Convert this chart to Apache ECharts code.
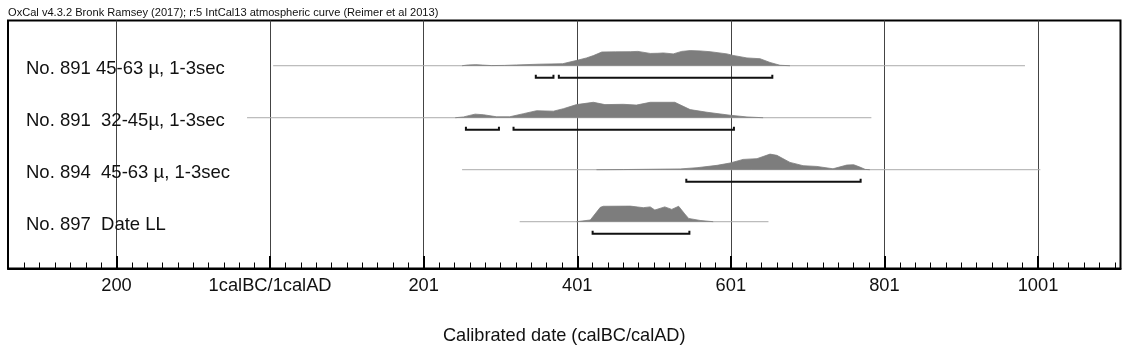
<!DOCTYPE html>
<html>
<head>
<meta charset="utf-8">
<script src="https://cdn.jsdelivr.net/npm/echarts@6/dist/echarts.min.js"></script>
<style>
  html, body { margin: 0; padding: 0; background: #fff; }
  #chart { width: 1128px; height: 352px; }
</style>
</head>
<body>
<div id="chart"></div>
<script>
// axis years: 0 = 1calBC/1calAD boundary, negative = BC
const tickValues = [-200, 0, 200, 400, 600, 800, 1000];
const tickLabels = ['200', '1calBC/1calAD', '201', '401', '601', '801', '1001'];

const rowNames = [
  'No. 891 45-63 \u00b5, 1-3sec',
  'No. 891  32-45\u00b5, 1-3sec',
  'No. 894  45-63 \u00b5, 1-3sec',
  'No. 897  Date LL'
];
// vertical position of each row's baseline (row units)
const rowBase = [3.9, 2.9, 1.9, 0.9];

// extent of the thin grey line under each distribution
const rowSpan = [[4, 983], [-30, 783], [250, 1003], [325, 649]];

// relative probability (1 = max) against axis year
const dens891a = [[250, 0], [258, 0.05], [268, 0.07], [277, 0.04], [288, 0.01], [305, 0.02], [321, 0.05],
  [351, 0.1], [381, 0.13], [400, 0.35], [412, 0.5], [421, 0.65], [432, 0.88], [450, 0.89], [469, 0.9],
  [479, 0.92], [495, 0.79], [505, 0.8], [512, 0.82], [525, 0.76], [536, 0.92], [547, 0.97], [560, 0.95],
  [573, 0.9], [595, 0.76], [603, 0.66], [621, 0.5], [638, 0.45], [651, 0.21], [664, 0.03], [677, 0]];
const dens891b = [[241, 0], [252, 0.05], [260, 0.15], [267, 0.23], [278, 0.19], [295, 0.06], [312, 0.06],
  [330, 0.26], [347, 0.45], [369, 0.42], [382, 0.58], [399, 0.84], [421, 0.99], [436, 0.84], [460, 0.86],
  [477, 0.81], [495, 0.99], [527, 0.99], [547, 0.52], [569, 0.35], [599, 0.16], [621, 0.05], [642, 0]];
const dens894 = [[425, 0], [460, 0.01], [534, 0.05], [556, 0.13], [582, 0.28], [599, 0.43], [616, 0.66],
  [634, 0.71], [651, 1.0], [660, 0.92], [677, 0.47], [694, 0.26], [712, 0.21], [733, 0.06], [751, 0.3],
  [760, 0.32], [768, 0.17], [775, 0.02], [781, 0]];
const dens897 = [[399, 0], [417, 0.11], [430, 0.92], [434, 0.99], [469, 1.0], [486, 0.9], [495, 0.95],
  [501, 0.75], [514, 0.95], [523, 0.79], [532, 0.99], [540, 0.5], [545, 0.21], [560, 0.08], [577, 0]];
const densities = [dens891a, dens891b, dens894, dens897];

// 95.4% ranges
const ranges891a = [[346, 369], [376, 654]];
const ranges891b = [[255, 298], [317, 604]];
const ranges894 = [[542, 769]];
const ranges897 = [[420, 546]];
const ranges = [ranges891a, ranges891b, ranges894, ranges897];

const peakHeight = 0.3;   // row units for probability 1
const rangeDrop = 0.23;   // bracket below baseline
const labelDrop = 0.055;  // row name sits a little below its baseline
const font = 'Liberation Sans, Arial, sans-serif';

const minorTicks = [];
for (let v = -320; v <= 1100; v += 20) minorTicks.push(v);

const labelPos = rowBase.map(b => b - labelDrop);

const chart = echarts.init(document.getElementById('chart'));

const series = [];
rowBase.forEach((base, i) => {
  series.push({
    type: 'line',
    data: rowSpan[i].map(t => [t, base]),
    symbol: 'none',
    silent: true,
    lineStyle: { color: '#ababab', width: 1 },
    z: 2
  });
  series.push({
    type: 'line',
    data: densities[i].map(d => [d[0], base + d[1] * peakHeight]),
    symbol: 'none',
    silent: true,
    lineStyle: { color: '#7d7d7d', width: 0.8 },
    areaStyle: { color: '#7d7d7d', opacity: 1, origin: base },
    z: 3
  });
});

series.push({
  type: 'custom',
  silent: true,
  data: ranges.flatMap((rs, i) => rs.map(r => [r[0], r[1], rowBase[i] - rangeDrop])),
  encode: { x: [0, 1], y: 2 },
  renderItem: function (params, api) {
    const a = api.coord([api.value(0), api.value(2)]);
    const b = api.coord([api.value(1), api.value(2)]);
    return {
      type: 'polyline',
      shape: { points: [[a[0], a[1] - 3], [a[0], a[1]], [b[0], b[1]], [b[0], b[1] - 3]] },
      style: { stroke: '#111', lineWidth: 2, fill: null }
    };
  },
  z: 4
});

chart.setOption({
  animation: false,
  title: {
    text: 'OxCal v4.3.2 Bronk Ramsey (2017); r:5 IntCal13 atmospheric curve (Reimer et al 2013)',
    left: 8,
    top: 7.5,
    padding: 0,
    textStyle: { fontFamily: font, fontSize: 11.1, fontWeight: 'normal', color: '#111' }
  },
  grid: {
    left: 8, right: 7.5, top: 20.5, bottom: 83.5,
    show: true, borderColor: '#000', borderWidth: 2
  },
  xAxis: [{
    type: 'value',
    min: -341.3,
    max: 1107.4,
    position: 'bottom',
    axisLine: { show: true, lineStyle: { color: '#000', width: 2 } },
    axisTick: { show: true, inside: true, length: 12.5, customValues: tickValues, lineStyle: { color: '#000', width: 2 } },
    axisLabel: {
      customValues: tickValues,
      margin: 8,
      fontFamily: font, fontSize: 18.3, color: '#111',
      formatter: v => tickLabels[tickValues.indexOf(v)]
    },
    splitLine: { show: true, lineStyle: { color: '#444', width: 1 } },
    name: 'Calibrated date (calBC/calAD)',
    nameLocation: 'middle',
    nameGap: 58,
    nameTextStyle: { fontFamily: font, fontSize: 18.2, color: '#111' }
  }, {
    type: 'value',
    min: -341.3,
    max: 1107.4,
    position: 'bottom',
    axisLine: { show: false },
    axisTick: { show: true, inside: true, length: 6, customValues: minorTicks, lineStyle: { color: '#000', width: 1 } },
    axisLabel: { show: false },
    splitLine: { show: false }
  }],
  yAxis: {
    type: 'value',
    min: 0,
    max: 4.77,
    axisLine: { show: false },
    axisTick: { show: false },
    splitLine: { show: false },
    axisLabel: {
      inside: true,
      margin: 18,
      customValues: labelPos,
      verticalAlign: 'middle',
      fontFamily: font, fontSize: 18.5, color: '#111',
      formatter: v => {
        const i = labelPos.findIndex(b => Math.abs(b - v) < 1e-6);
        return i >= 0 ? rowNames[i] : '';
      }
    }
  },
  series: series
});
</script>
</body>
</html>
